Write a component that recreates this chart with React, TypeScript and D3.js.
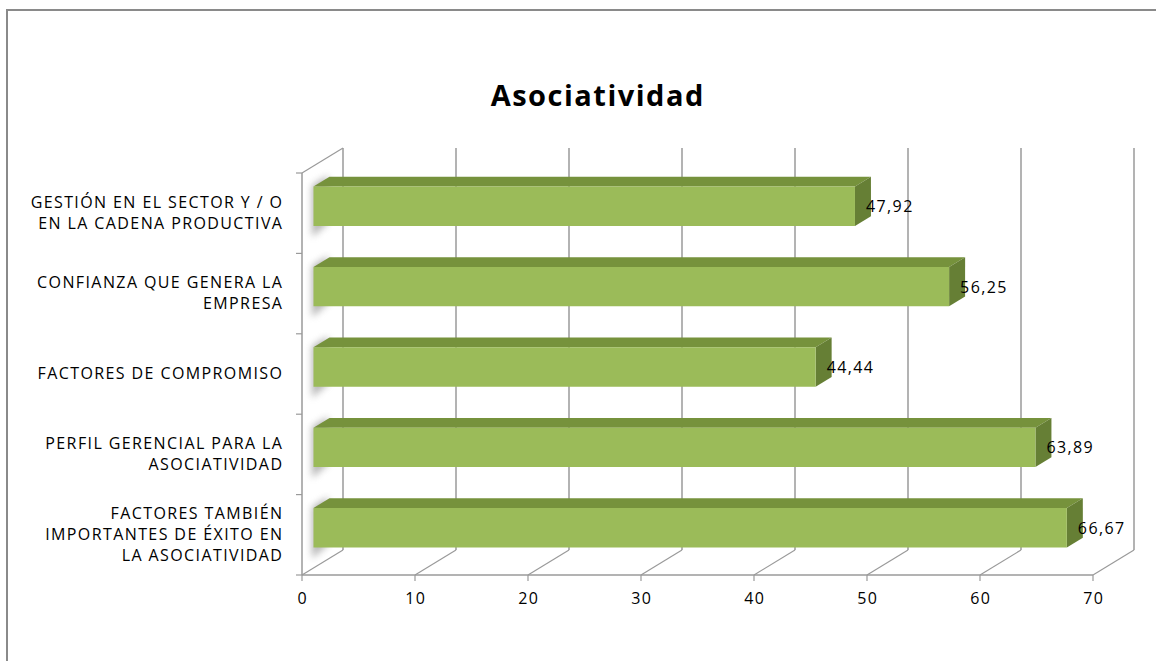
import React from "react";
import * as d3 from "d3";

const categories: string[][] = [
  ["GESTIÓN EN EL SECTOR Y / O", "EN LA CADENA PRODUCTIVA"],
  ["CONFIANZA QUE GENERA LA", "EMPRESA"],
  ["FACTORES DE COMPROMISO"],
  ["PERFIL GERENCIAL PARA LA", "ASOCIATIVIDAD"],
  ["FACTORES TAMBIÉN", "IMPORTANTES DE ÉXITO EN", "LA ASOCIATIVIDAD"],
];
const values: number[] = [47.92, 56.25, 44.44, 63.89, 66.67];
const valueLabels: string[] = ["47,92", "56,25", "44,44", "63,89", "66,67"];
const xTicks: number[] = [0, 10, 20, 30, 40, 50, 60, 70];
const title = "Asociatividad";

const W = 1156;
const H = 661;
const FONT = "'Open Sans', Lato, sans-serif";
const LS = 1.4;

export default function App() {
  const keys = categories.map((_, i) => String(i));
  const x = d3.scaleLinear().domain([0, 70]).range([302, 1093]);
  const y = d3.scaleBand<string>().domain(keys).range([173, 575]).paddingInner(0.51).paddingOuter(0.255);
  const yFull = d3.scaleBand<string>().domain(keys).range([173, 575]);
  const DX = 41, DY = -25;
  const k0 = 0.28, k1 = 0.67;
  const P = (v: number, k: number, yy: number): [number, number] => [x(v) + DX * k, yy + DY * k];
  const pts = (a: [number, number][]) => a.map((p) => p.join(",")).join(" ");
  const grid = "#9a9a9a";
  const yTop = 173, yBot = 575;

  return (
    <svg width={W} height={H} style={{ position: "absolute", left: 0, top: 0, background: "#fff" }}>
      <defs>
        <filter id="blur" x="-50%" y="-50%" width="200%" height="200%">
          <feGaussianBlur stdDeviation="3.5" />
        </filter>
      </defs>
      <rect x={7} y={10} width={1165} height={670} fill="#fff" stroke="#8a8a8a" strokeWidth={2} />
      <text x={597 + 0.75} y={106} textAnchor="middle" fontFamily={FONT} fontWeight="bold" fontSize={29} letterSpacing={1.5} fill="#000">
        {title}
      </text>

      {/* back wall gridlines */}
      {xTicks.map((t) => {
        const a = P(t, 1, yTop), b = P(t, 1, yBot);
        return <line key={"g" + t} x1={a[0]} y1={a[1]} x2={b[0]} y2={b[1]} stroke={grid} strokeWidth={1.5} />;
      })}
      {/* floor diagonals */}
      {xTicks.map((t) => {
        const a = P(t, 0, yBot), b = P(t, 1, yBot);
        return <line key={"f" + t} x1={a[0]} y1={a[1]} x2={b[0]} y2={b[1]} stroke={grid} strokeWidth={1.2} />;
      })}
      {/* left wall */}
      <line x1={P(0, 0, yTop)[0]} y1={P(0, 0, yTop)[1]} x2={P(0, 1, yTop)[0]} y2={P(0, 1, yTop)[1]} stroke={grid} strokeWidth={1.2} />
      <line x1={x(0)} y1={yTop} x2={x(0)} y2={yBot} stroke={grid} strokeWidth={1.5} />
      {/* front floor line */}
      <line x1={x(0)} y1={yBot} x2={x(70)} y2={yBot} stroke={grid} strokeWidth={1.5} />
      {/* category ticks */}
      {keys.map((k) => (
        <line key={"ct" + k} x1={x(0) - 6} x2={x(0)} y1={yFull(k)!} y2={yFull(k)!} stroke={grid} strokeWidth={1.2} />
      ))}
      <line x1={x(0) - 6} x2={x(0)} y1={yBot} y2={yBot} stroke={grid} strokeWidth={1.2} />
      {/* value ticks */}
      {xTicks.map((t) => (
        <line key={"vt" + t} x1={x(t)} x2={x(t)} y1={yBot} y2={yBot + 6} stroke={grid} strokeWidth={1.2} />
      ))}
      {xTicks.map((t) => (
        <text key={"vl" + t} x={x(t) + LS / 2} y={604} textAnchor="middle" fontFamily={FONT} fontSize={16} letterSpacing={LS} fill="#000">
          {t}
        </text>
      ))}

      {/* shadows on wall */}
      {keys.map((k) => {
        const yy = y(k)!;
        const bw = y.bandwidth();
        return (
          <polygon
            key={"s" + k}
            points={pts([
              [x(0) + 10, yy - 8],
              [x(0) + 26, yy - 18],
              [x(0) + 26, yy + bw - 10],
              [x(0) + 10, yy + bw + 4],
            ])}
            fill="#7a7a7a"
            opacity={0.55}
            filter="url(#blur)"
          />
        );
      })}

      {/* bars */}
      {keys.map((k, i) => {
        const v = values[i];
        const yy = y(k)!;
        const bw = y.bandwidth();
        const fTL = P(0, k0, yy), fTR = P(v, k0, yy), fBR = P(v, k0, yy + bw), fBL = P(0, k0, yy + bw);
        const bTL = P(0, k1, yy), bTR = P(v, k1, yy), bBR = P(v, k1, yy + bw);
        return (
          <g key={"b" + k}>
            <polygon points={pts([fTL, fTR, bTR, bTL])} fill="#76923C" />
            <polygon points={pts([fTR, bTR, bBR, fBR])} fill="#667F35" />
            <polygon points={pts([fTL, fTR, fBR, fBL])} fill="#9BBB59" />
            <text
              x={fTR[0] + 11}
              y={(fTR[1] + fBR[1]) / 2 + 6}
              fontFamily={FONT}
              fontSize={16}
              letterSpacing={LS}
              fill="#000"
            >
              {valueLabels[i]}
            </text>
          </g>
        );
      })}

      {/* category labels */}
      {keys.map((k, i) => {
        const c = yFull(k)! + yFull.bandwidth() / 2;
        const lines = categories[i];
        const lh = 21;
        const start = c - ((lines.length - 1) * lh) / 2;
        return (
          <text key={"cl" + k} textAnchor="end" fontFamily={FONT} fontSize={16} letterSpacing={LS} fill="#000">
            {lines.map((l, j) => (
              <tspan key={j} x={282 + LS} y={start + j * lh + 5}>
                {l}
              </tspan>
            ))}
          </text>
        );
      })}
    </svg>
  );
}
